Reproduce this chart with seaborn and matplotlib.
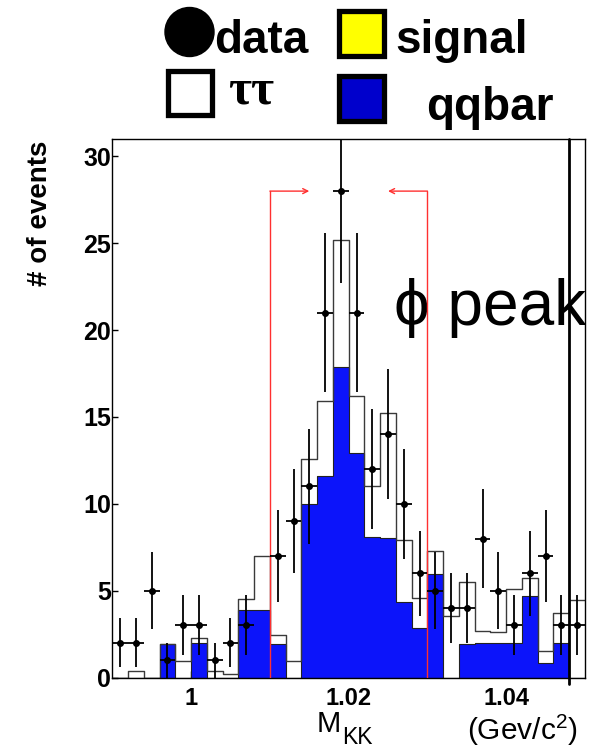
import numpy as np
import pandas as pd
import matplotlib
matplotlib.use("Agg")
import matplotlib.pyplot as plt
from matplotlib.patches import Circle, Rectangle
import seaborn as sns

# ---------------- data ----------------
bin_edges = np.round(np.arange(0.990, 1.0501, 0.002), 4)
bin_centers = (bin_edges[:-1] + bin_edges[1:]) / 2

data_counts = [2, 2, 5, 1, 3, 3, 1, 2, 3, 0, 7, 9, 11, 21, 28, 21, 12, 14, 10, 6,
               5, 4, 4, 8, 5, 3, 6, 7, 3, 3]
qqbar_counts = [0, 0, 0, 1.9, 0, 2.0, 0, 0, 3.87, 3.87, 1.9, 0, 10.0, 11.6, 17.9,
                12.9, 8.1, 8.05, 4.37, 2.87, 5.96, 0, 1.91, 1.97, 1.97, 1.97, 4.69,
                0.85, 1.97, 0]
tautau_counts = [0, 0.35, 0, 0, 0.95, 0.3, 0.38, 0.22, 0.63, 3.13, 0.53, 0.95, 2.56,
                 4.3, 7.3, 3.3, 2.9, 7.15, 3.55, 1.69, 1.32, 3.54, 3.61, 0.71, 0.67,
                 3.13, 1.02, 0.69, 1.73, 4.46]

cut_low, cut_high, cut_arrow_y = 1.010, 1.030, 28
arrow_len = 0.005
edge_line_x = 1.048

x_ticks = [1.00, 1.02, 1.04]
x_ticklabels = ["1", "1.02", "1.04"]
y_ticks = [0, 5, 10, 15, 20, 25, 30]

# ---------------- style ----------------
sns.set_style("ticks")
plt.rcParams["font.family"] = ["Liberation Sans", "DejaVu Sans"]
plt.rcParams["mathtext.fontset"] = "custom"
plt.rcParams["mathtext.rm"] = "Liberation Sans"
plt.rcParams["mathtext.it"] = "Liberation Sans"
for k in ["text.color", "axes.labelcolor", "xtick.color", "ytick.color", "axes.edgecolor"]:
    plt.rcParams[k] = "black"

W, H = 599, 748
fig = plt.figure(figsize=(W / 100, H / 100), dpi=100)
ax_l, ax_r, ax_t, ax_b = 112.3, 585.0, 139.0, 677.5
ax = fig.add_axes([ax_l / W, 1 - ax_b / H, (ax_r - ax_l) / W, (ax_b - ax_t) / H])

df = pd.DataFrame({
    "center": bin_centers,
    "qqbar": np.array(qqbar_counts, dtype=float),
    "tautau": np.array(tautau_counts, dtype=float),
    "data": np.array(data_counts, dtype=float),
})
df["total"] = df["qqbar"] + df["tautau"]

blue = "#0c14fa"
sns.histplot(data=df, x="center", weights="qqbar", bins=list(bin_edges), element="step",
             fill=True, color=blue, alpha=1.0, edgecolor="#222222", linewidth=0.8, ax=ax)
sns.histplot(data=df, x="center", weights="total", bins=list(bin_edges), element="step",
             fill=False, color="#3a3a3a", linewidth=1.0, ax=ax)

# data points
dd = df[df["data"] > 0]
ax.errorbar(dd["center"], dd["data"], yerr=np.sqrt(dd["data"]), xerr=0.001,
            fmt="o", ms=4, color="black", ecolor="black", elinewidth=1.3,
            capsize=0, zorder=5)

# selection window
red = "#ff3030"
for xc, direction in [(cut_low, 1), (cut_high, -1)]:
    ax.plot([xc, xc], [0, cut_arrow_y], color=red, lw=1.0, zorder=4)
    ax.annotate("", xy=(xc + direction * arrow_len, cut_arrow_y), xytext=(xc, cut_arrow_y),
                arrowprops=dict(arrowstyle="->", color=red, lw=1.0,
                                shrinkA=0, shrinkB=0, mutation_scale=9), zorder=4)

ax.plot([edge_line_x, edge_line_x], [-0.35, 31], color="black", lw=2.0,
        clip_on=False, zorder=6)

ax.text(1.0257, 20.3, "ϕ peak", fontsize=46, ha="left", va="baseline", color="black",
        family=["Liberation Sans", "DejaVu Sans"], clip_on=True, zorder=3)

ax.set_xlim(0.990, 1.050)
ax.set_ylim(0, 31)
ax.set_xticks(x_ticks)
ax.set_xticklabels(x_ticklabels, fontsize=17, fontweight="bold")
ax.set_yticks(y_ticks)
ax.set_yticklabels([str(v) for v in y_ticks], fontsize=18, fontweight="bold")
ax.tick_params(axis="x", direction="in", length=5, width=1, pad=7)
ax.tick_params(axis="y", direction="in", length=4, width=1, pad=1)
ax.minorticks_off()
ax.set_xlabel("")
ax.set_ylabel("# of events", fontsize=20, fontweight="bold", va="center")
ax.yaxis.set_label_coords((40 - ax_l) / (ax_r - ax_l), (ax_b - 213) / (ax_b - ax_t))
for s in ax.spines.values():
    s.set_visible(True)
    s.set_linewidth(1.0)
    s.set_color("black")

# ---------------- overlay in pixel coords (legend, axis titles) ----------------
ov = fig.add_axes([0, 0, 1, 1])
ov.set_xlim(0, W)
ov.set_ylim(H, 0)
ov.axis("off")
ov.patch.set_visible(False)

ov.add_patch(Circle((189.5, 32), 24.5, color="black"))
ov.add_patch(Rectangle((167.5, 70.5), 44, 44, facecolor="white", edgecolor="black", lw=3.8))
ov.add_patch(Rectangle((338.5, 10.5), 45, 45, facecolor="#ffff00", edgecolor="black", lw=3.8))
ov.add_patch(Rectangle((338.5, 75.5), 45, 45, facecolor="#0000cc", edgecolor="black", lw=3.8))

leg_fs = 33
ov.text(214, 53, "data", fontsize=leg_fs, fontweight="bold", ha="left", va="baseline")
ov.text(395, 53, "signal", fontsize=leg_fs, fontweight="bold", ha="left", va="baseline")
ov.text(228, 103, "ττ", fontsize=36, fontweight="bold",
        family=["Liberation Serif", "DejaVu Serif"], ha="left", va="baseline")
ov.text(426, 120, "qqbar", fontsize=leg_fs, fontweight="bold", ha="left", va="baseline")

ov.text(317, 732, "M", fontsize=21, ha="left", va="baseline")
ov.text(342, 744, "KK", fontsize=16.5, ha="left", va="baseline")
ov.text(522, 740, r"(Gev/c$^{2}$)", fontsize=21.5, ha="center", va="baseline")

fig.savefig("out.png", dpi=100)
